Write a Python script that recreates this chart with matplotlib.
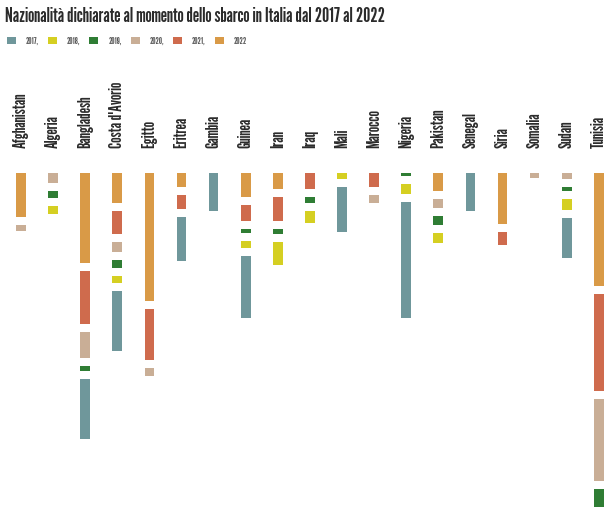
import matplotlib
matplotlib.use("Agg")
import matplotlib.pyplot as plt
from matplotlib.patches import Patch

countries = ["Afghanistan", "Algeria", "Bangladesh", "Costa d'Avorio", "Egitto", "Eritrea",
             "Gambia", "Guinea", "Iran", "Iraq", "Mali", "Marocco", "Nigeria", "Pakistan",
             "Senegal", "Siria", "Somalia", "Sudan", "Tunisia"]
years = ["2017", "2018", "2019", "2020", "2021", "2022"]

v2017 = [0, 0, 60, 60, 0, 44, 38, 62, 0, 0, 45, 0, 116, 0, 38, 0, 0, 40, 0]
v2018 = [0, 8, 0, 7, 0, 0, 0, 7, 23, 12, 6, 0, 10, 10, 0, 0, 0, 11, 0]
v2019 = [0, 7, 5, 8, 0, 0, 0, 4, 5, 6, 0, 0, 3, 9, 0, 0, 0, 4, 18]
v2020 = [6, 10, 26, 10, 8, 0, 0, 0, 0, 0, 0, 8, 0, 9, 0, 0, 5, 6, 82]
v2021 = [0, 0, 53, 23, 51, 14, 0, 16, 24, 16, 0, 14, 0, 0, 0, 13, 0, 0, 97]
v2022 = [44, 0, 90, 30, 128, 14, 0, 24, 16, 0, 0, 0, 0, 18, 0, 51, 0, 0, 113]

colors = {"2017": "#6f979b", "2018": "#d5cf22", "2019": "#2f7d34",
          "2020": "#c9ae96", "2021": "#cf6b4d", "2022": "#d99a47"}

series = {"2017": v2017, "2018": v2018, "2019": v2019,
          "2020": v2020, "2021": v2021, "2022": v2022}
stack_order = ["2022", "2021", "2020", "2019", "2018", "2017"]

W, H = 609, 512
fig = plt.figure(figsize=(W / 100, H / 100), dpi=100)
fig.patch.set_facecolor("white")

fam = ["League Gothic", "Oswald", "Barlow Condensed", "DejaVu Sans"]

top_px = 173
ax = fig.add_axes([0, 0, 1, (H - top_px) / H])
ax.set_xlim(-21 / 32.1, (W - 21) / 32.1)
ax.set_ylim(H - top_px, 0)
ax.axis("off")

gap = 8
bw = 0.3
for i, c in enumerate(countries):
    pos = 0
    for y in stack_order:
        v = series[y][i]
        if v <= 0:
            continue
        ax.bar(i, v, bottom=pos, width=bw, color=colors[y], linewidth=0, clip_on=False)
        pos += v + gap

for i, c in enumerate(countries):
    xf = (21 + 32.1 * i) / W
    fig.text(xf, 1 - 148 / H, c, rotation=90, ha="center", va="bottom",
             fontsize=12.5, color="#2b2b2b", family=fam)

fig.text(5 / W, 1 - 17 / H,
         "Nazionalità dichiarate al momento dello sbarco in Italia dal 2017 al 2022",
         ha="left", va="center", fontsize=14.4, color="#2b2b2b", family=fam)

labels = ["2017,", "2018,", "2019,", "2020,", "2021,", "2022"]
handles = [Patch(facecolor=colors[y], edgecolor="none") for y in years]
leg = fig.legend(handles, labels, loc="upper left", bbox_to_anchor=(7 / W, 1 - 37 / H),
                 ncol=6, frameon=False, handlelength=1.0, handleheight=0.8,
                 handletextpad=1.1, columnspacing=1.0, borderpad=0, borderaxespad=0,
                 prop={"family": fam, "size": 6.5})
for t in leg.get_texts():
    t.set_color("#555555")

fig.savefig("out.png", dpi=100, facecolor="white")
